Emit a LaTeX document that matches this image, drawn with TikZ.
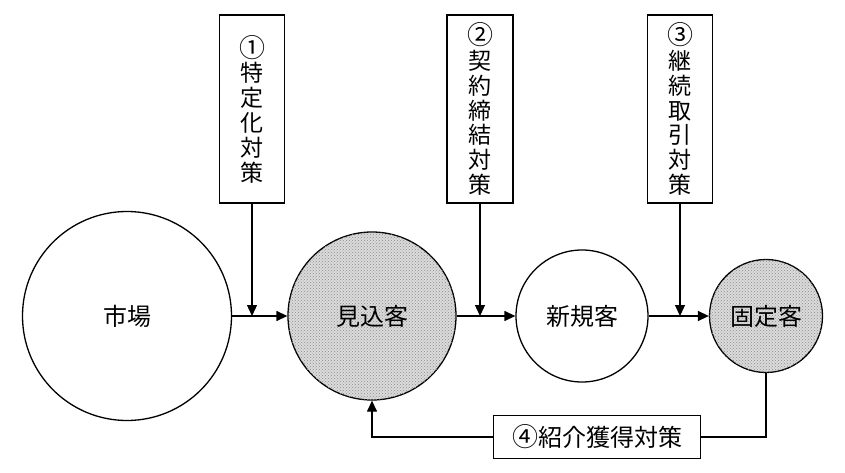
\documentclass[tikz,border=0pt]{standalone}
\usepackage{fontspec}
\setmainfont{Noto Sans CJK JP}
\usetikzlibrary{arrows.meta,patterns}

\tikzset{
  stage/.style={circle,draw,line width=1.3pt,inner sep=0pt,font=\fontsize{24}{26}\selectfont},
  dotted stage/.style={stage,fill=black!14,postaction={pattern=crosshatch dots,pattern color=black!45}},
  plan/.style={draw,line width=1.2pt,fill=white,align=center,inner sep=0pt,font=\fontsize{23}{24.8}\selectfont},
  flow/.style={line width=1.3pt,-{Triangle[length=11pt,width=10pt]}}
}
\newcommand{\bignum}[1]{{\fontsize{26}{24.8}\selectfont #1}}

\begin{document}
\begin{tikzpicture}[x=1pt,y=-1pt]
\useasboundingbox (0,0) rectangle (845,473);

\node[stage,minimum size=209pt] (market) at (127,316) {市場};
\node[dotted stage,minimum size=168pt] (prospect) at (372,316) {見込客};
\node[stage,minimum size=132pt] (newcust) at (582,316) {新規客};
\node[dotted stage,minimum size=113pt] (fixedcust) at (766,316) {固定客};

\node[plan,minimum width=65pt,minimum height=188pt] (m1) at (252,109) {\bignum{①}\\特\\定\\化\\対\\策};
\node[plan,minimum width=66pt,minimum height=188pt] (m2) at (480,109) {\bignum{②}\\契\\約\\締\\結\\対\\策};
\node[plan,minimum width=65pt,minimum height=188pt] (m3) at (680,109) {\bignum{③}\\継\\続\\取\\引\\対\\策};
\node[plan,minimum width=207pt,minimum height=43pt,font=\fontsize{24}{26}\selectfont] (m4) at (597,437) {\bignum{④}紹介獲得対策};

\draw[flow] (market.east) -- (prospect.west);
\draw[flow] (prospect.east) -- (newcust.west);
\draw[flow] (newcust.east) -- (fixedcust.west);

\draw[flow] (m1.south) -- (m1.south |- market.east);
\draw[flow] (m2.south) -- (m2.south |- prospect.east);
\draw[flow] (m3.south) -- (m3.south |- newcust.east);

\draw[line width=1.3pt] (fixedcust.south) |- (m4.east);
\draw[flow] (m4.west) -| (prospect.south);
\end{tikzpicture}
\end{document}
